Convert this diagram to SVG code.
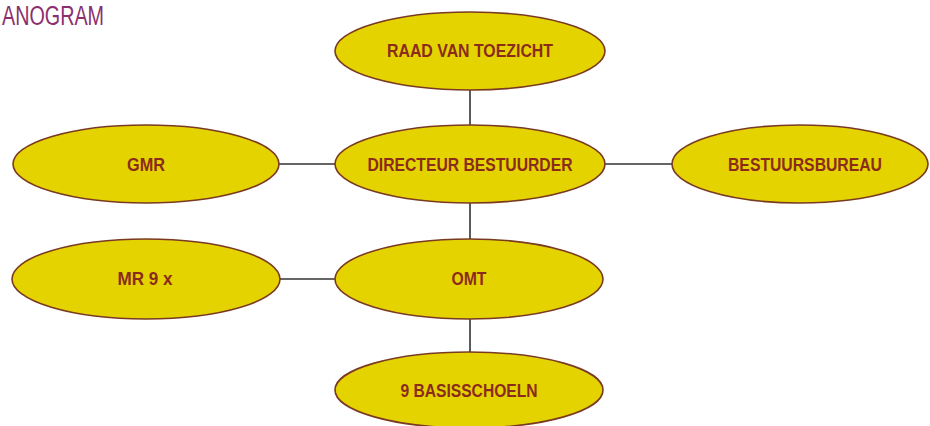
<svg xmlns="http://www.w3.org/2000/svg" width="930" height="426" viewBox="0 0 930 426">
<style>
.node ellipse{fill:#e5d300;stroke:#7a3a22;stroke-width:1.6}
.node text{font-family:"Liberation Sans",Arial,sans-serif;font-weight:bold;font-size:18px;fill:#8a2c1c;text-anchor:middle}
#connectors line{stroke:#333;stroke-width:1.6}
.title{font-family:"Liberation Sans",Arial,sans-serif;font-size:27px;fill:#8b2f6e}
</style>
<rect width="930" height="426" fill="#fff"/>
<text class="title" x="2" y="25" textLength="102" lengthAdjust="spacingAndGlyphs">ANOGRAM</text>
<g id="connectors">
<line x1="470" y1="90" x2="470" y2="125"/>
<line x1="470" y1="203" x2="470" y2="239"/>
<line x1="470" y1="318" x2="470" y2="352"/>
<line x1="279" y1="164" x2="335" y2="164"/>
<line x1="605" y1="164" x2="672" y2="164"/>
<line x1="280" y1="279" x2="335" y2="279"/>
</g>
<g id="raad" class="node"><ellipse cx="470" cy="51" rx="135" ry="39"/><text x="470" y="57" textLength="166" lengthAdjust="spacingAndGlyphs">RAAD VAN TOEZICHT</text></g>
<g id="gmr" class="node"><ellipse cx="146" cy="164" rx="133" ry="39"/><text x="146" y="171" textLength="38" lengthAdjust="spacingAndGlyphs">GMR</text></g>
<g id="directeur" class="node"><ellipse cx="470" cy="164" rx="135" ry="39"/><text x="470" y="171" textLength="205" lengthAdjust="spacingAndGlyphs">DIRECTEUR BESTUURDER</text></g>
<g id="bestuursbureau" class="node"><ellipse cx="800" cy="164" rx="128" ry="39"/><text x="805" y="171" textLength="154" lengthAdjust="spacingAndGlyphs">BESTUURSBUREAU</text></g>
<g id="mr" class="node"><ellipse cx="146" cy="279" rx="134" ry="40"/><text x="145" y="285" textLength="55" lengthAdjust="spacingAndGlyphs">MR 9 x</text></g>
<g id="omt" class="node"><ellipse cx="469" cy="279" rx="134" ry="40"/><text x="469" y="285" textLength="35" lengthAdjust="spacingAndGlyphs">OMT</text></g>
<g id="basisscholen" class="node"><ellipse cx="469" cy="390" rx="134" ry="38"/><text x="469" y="397" textLength="137" lengthAdjust="spacingAndGlyphs">9 BASISSCHOELN</text></g>
</svg>
